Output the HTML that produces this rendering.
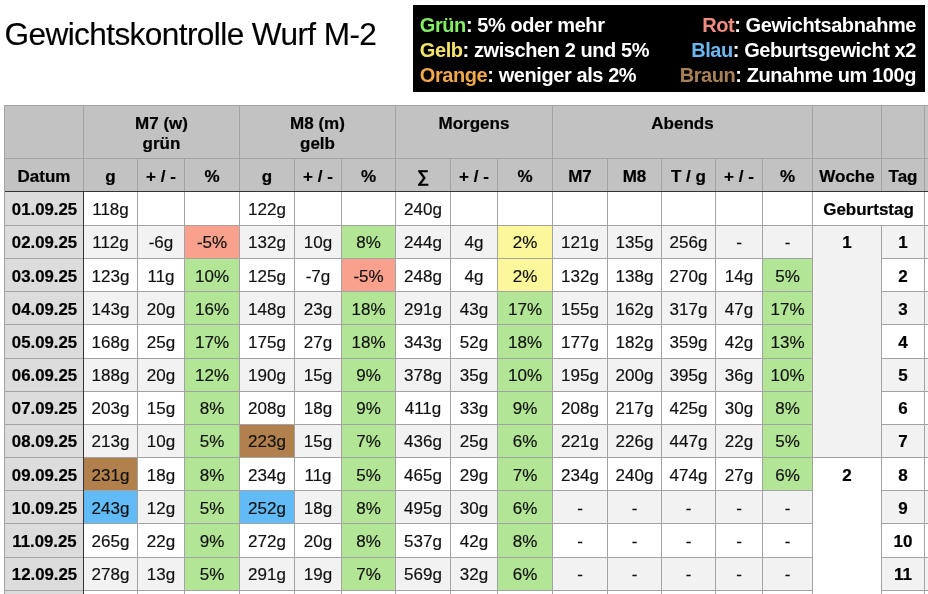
<!DOCTYPE html>
<html><head><meta charset="utf-8"><style>
html,body{margin:0;padding:0;background:#fff;width:928px;height:594px;overflow:hidden;position:relative;font-family:"Liberation Sans",sans-serif;color:#000}
.r{position:absolute}
#wrap{position:absolute;left:0;top:0;width:928px;height:594px;will-change:transform}
.t,.h,.d{position:absolute;text-align:center;white-space:nowrap}
.h{font-weight:bold;-webkit-text-stroke:0.2px #000;font-size:17px;line-height:19.8px;padding-top:8.8px;box-sizing:border-box}
.d{font-size:17px;line-height:35.8px;color:#111;-webkit-text-stroke:0.18px #111}
.b{font-weight:bold;color:#000;-webkit-text-stroke:0.2px #000}
#title{position:absolute;left:4.5px;top:13.9px;-webkit-text-stroke:0.15px #000;font-size:31.6px;letter-spacing:-0.6px;line-height:40px;white-space:nowrap}
#legend{position:absolute;left:413px;top:5px;width:512px;height:87px;background:#000;color:#fff;font-weight:bold;font-size:20px;letter-spacing:-0.42px}
#legend div{position:absolute;white-space:nowrap;line-height:25px}
</style></head><body><div id="wrap">
<div id="title">Gewichtskontrolle Wurf M-2</div>
<div id="legend">
<div style="left:6.8px;top:7.9px"><span style="color:#84ee64">Grün</span>: 5% oder mehr</div>
<div style="left:6.8px;top:32.9px"><span style="color:#f4e46a">Gelb</span>: zwischen 2 und 5%</div>
<div style="left:6.8px;top:57.6px"><span style="color:#f0a848">Orange</span>: weniger als 2%</div>
<div style="right:9px;top:7.9px;text-align:right"><span style="color:#f08c82">Rot</span>: Gewichtsabnahme</div>
<div style="right:9px;top:32.9px;text-align:right"><span style="color:#6cb6f0">Blau</span>: Geburtsgewicht x2</div>
<div style="right:9px;top:57.6px;text-align:right"><span style="color:#a88058">Braun</span>: Zunahme um 100g</div>
</div>
<div class="r" style="left:4.50px;top:105.40px;width:985.50px;height:85.90px;background:#c2c2c2;"></div>
<div class="r" style="left:83.50px;top:191.30px;width:906.50px;height:34.10px;background:#ffffff;"></div>
<div class="r" style="left:4.50px;top:191.30px;width:79.00px;height:34.10px;background:#dcdcdc;"></div>
<div class="r" style="left:83.50px;top:225.40px;width:906.50px;height:33.16px;background:#f2f2f2;"></div>
<div class="r" style="left:4.50px;top:225.40px;width:79.00px;height:33.16px;background:#dcdcdc;"></div>
<div class="r" style="left:83.50px;top:258.56px;width:906.50px;height:33.16px;background:#ffffff;"></div>
<div class="r" style="left:4.50px;top:258.56px;width:79.00px;height:33.16px;background:#dcdcdc;"></div>
<div class="r" style="left:83.50px;top:291.72px;width:906.50px;height:33.16px;background:#f2f2f2;"></div>
<div class="r" style="left:4.50px;top:291.72px;width:79.00px;height:33.16px;background:#dcdcdc;"></div>
<div class="r" style="left:83.50px;top:324.88px;width:906.50px;height:33.16px;background:#ffffff;"></div>
<div class="r" style="left:4.50px;top:324.88px;width:79.00px;height:33.16px;background:#dcdcdc;"></div>
<div class="r" style="left:83.50px;top:358.04px;width:906.50px;height:33.16px;background:#f2f2f2;"></div>
<div class="r" style="left:4.50px;top:358.04px;width:79.00px;height:33.16px;background:#dcdcdc;"></div>
<div class="r" style="left:83.50px;top:391.20px;width:906.50px;height:33.16px;background:#ffffff;"></div>
<div class="r" style="left:4.50px;top:391.20px;width:79.00px;height:33.16px;background:#dcdcdc;"></div>
<div class="r" style="left:83.50px;top:424.36px;width:906.50px;height:33.16px;background:#f2f2f2;"></div>
<div class="r" style="left:4.50px;top:424.36px;width:79.00px;height:33.16px;background:#dcdcdc;"></div>
<div class="r" style="left:83.50px;top:457.52px;width:906.50px;height:33.16px;background:#ffffff;"></div>
<div class="r" style="left:4.50px;top:457.52px;width:79.00px;height:33.16px;background:#dcdcdc;"></div>
<div class="r" style="left:83.50px;top:490.68px;width:906.50px;height:33.16px;background:#f2f2f2;"></div>
<div class="r" style="left:4.50px;top:490.68px;width:79.00px;height:33.16px;background:#dcdcdc;"></div>
<div class="r" style="left:83.50px;top:523.84px;width:906.50px;height:33.16px;background:#ffffff;"></div>
<div class="r" style="left:4.50px;top:523.84px;width:79.00px;height:33.16px;background:#dcdcdc;"></div>
<div class="r" style="left:83.50px;top:557.00px;width:906.50px;height:33.16px;background:#f2f2f2;"></div>
<div class="r" style="left:4.50px;top:557.00px;width:79.00px;height:33.16px;background:#dcdcdc;"></div>
<div class="r" style="left:83.50px;top:590.16px;width:906.50px;height:49.84px;background:#ffffff;"></div>
<div class="r" style="left:4.50px;top:590.16px;width:79.00px;height:49.84px;background:#dcdcdc;"></div>
<div class="r" style="left:812.50px;top:225.40px;width:69.00px;height:232.12px;background:#f2f2f2;"></div>
<div class="r" style="left:812.50px;top:457.52px;width:69.00px;height:182.48px;background:#ffffff;"></div>
<div class="r" style="left:184.50px;top:225.40px;width:55.00px;height:33.16px;background:#f9a18d;"></div>
<div class="r" style="left:341.50px;top:225.40px;width:54.00px;height:33.16px;background:#b3e596;"></div>
<div class="r" style="left:497.50px;top:225.40px;width:55.00px;height:33.16px;background:#fbf79a;"></div>
<div class="r" style="left:184.50px;top:258.56px;width:55.00px;height:33.16px;background:#b3e596;"></div>
<div class="r" style="left:341.50px;top:258.56px;width:54.00px;height:33.16px;background:#f9a18d;"></div>
<div class="r" style="left:497.50px;top:258.56px;width:55.00px;height:33.16px;background:#fbf79a;"></div>
<div class="r" style="left:762.50px;top:258.56px;width:50.00px;height:33.16px;background:#b3e596;"></div>
<div class="r" style="left:184.50px;top:291.72px;width:55.00px;height:33.16px;background:#b3e596;"></div>
<div class="r" style="left:341.50px;top:291.72px;width:54.00px;height:33.16px;background:#b3e596;"></div>
<div class="r" style="left:497.50px;top:291.72px;width:55.00px;height:33.16px;background:#b3e596;"></div>
<div class="r" style="left:184.50px;top:324.88px;width:55.00px;height:33.16px;background:#b3e596;"></div>
<div class="r" style="left:341.50px;top:324.88px;width:54.00px;height:33.16px;background:#b3e596;"></div>
<div class="r" style="left:497.50px;top:324.88px;width:55.00px;height:33.16px;background:#b3e596;"></div>
<div class="r" style="left:184.50px;top:358.04px;width:55.00px;height:33.16px;background:#b3e596;"></div>
<div class="r" style="left:341.50px;top:358.04px;width:54.00px;height:33.16px;background:#b3e596;"></div>
<div class="r" style="left:497.50px;top:358.04px;width:55.00px;height:33.16px;background:#b3e596;"></div>
<div class="r" style="left:184.50px;top:391.20px;width:55.00px;height:33.16px;background:#b3e596;"></div>
<div class="r" style="left:341.50px;top:391.20px;width:54.00px;height:33.16px;background:#b3e596;"></div>
<div class="r" style="left:497.50px;top:391.20px;width:55.00px;height:33.16px;background:#b3e596;"></div>
<div class="r" style="left:184.50px;top:424.36px;width:55.00px;height:33.16px;background:#b3e596;"></div>
<div class="r" style="left:341.50px;top:424.36px;width:54.00px;height:33.16px;background:#b3e596;"></div>
<div class="r" style="left:497.50px;top:424.36px;width:55.00px;height:33.16px;background:#b3e596;"></div>
<div class="r" style="left:184.50px;top:457.52px;width:55.00px;height:33.16px;background:#b3e596;"></div>
<div class="r" style="left:341.50px;top:457.52px;width:54.00px;height:33.16px;background:#b3e596;"></div>
<div class="r" style="left:497.50px;top:457.52px;width:55.00px;height:33.16px;background:#b3e596;"></div>
<div class="r" style="left:184.50px;top:490.68px;width:55.00px;height:33.16px;background:#b3e596;"></div>
<div class="r" style="left:341.50px;top:490.68px;width:54.00px;height:33.16px;background:#b3e596;"></div>
<div class="r" style="left:497.50px;top:490.68px;width:55.00px;height:33.16px;background:#b3e596;"></div>
<div class="r" style="left:184.50px;top:523.84px;width:55.00px;height:33.16px;background:#b3e596;"></div>
<div class="r" style="left:341.50px;top:523.84px;width:54.00px;height:33.16px;background:#b3e596;"></div>
<div class="r" style="left:497.50px;top:523.84px;width:55.00px;height:33.16px;background:#b3e596;"></div>
<div class="r" style="left:184.50px;top:557.00px;width:55.00px;height:33.16px;background:#b3e596;"></div>
<div class="r" style="left:341.50px;top:557.00px;width:54.00px;height:33.16px;background:#b3e596;"></div>
<div class="r" style="left:497.50px;top:557.00px;width:55.00px;height:33.16px;background:#b3e596;"></div>
<div class="r" style="left:762.50px;top:291.72px;width:50.00px;height:33.16px;background:#b3e596;"></div>
<div class="r" style="left:762.50px;top:324.88px;width:50.00px;height:33.16px;background:#b3e596;"></div>
<div class="r" style="left:762.50px;top:358.04px;width:50.00px;height:33.16px;background:#b3e596;"></div>
<div class="r" style="left:762.50px;top:391.20px;width:50.00px;height:33.16px;background:#b3e596;"></div>
<div class="r" style="left:762.50px;top:424.36px;width:50.00px;height:33.16px;background:#b3e596;"></div>
<div class="r" style="left:762.50px;top:457.52px;width:50.00px;height:33.16px;background:#b3e596;"></div>
<div class="r" style="left:239.50px;top:424.36px;width:55.00px;height:33.16px;background:#b2804c;"></div>
<div class="r" style="left:83.50px;top:457.52px;width:54.00px;height:33.16px;background:#b2804c;"></div>
<div class="r" style="left:83.50px;top:490.68px;width:54.00px;height:33.16px;background:#61bbf6;"></div>
<div class="r" style="left:239.50px;top:490.68px;width:55.00px;height:33.16px;background:#61bbf6;"></div>
<div class="r" style="left:4.50px;top:104.90px;width:985.50px;height:1.00px;background:#a3a3a3;"></div>
<div class="r" style="left:4.50px;top:157.90px;width:985.50px;height:1.00px;background:#a3a3a3;"></div>
<div class="r" style="left:4.00px;top:105.40px;width:1.00px;height:488.60px;background:#a3a3a3;"></div>
<div class="r" style="left:83.00px;top:105.40px;width:1.00px;height:85.90px;background:#a3a3a3;"></div>
<div class="r" style="left:239.00px;top:105.40px;width:1.00px;height:85.90px;background:#a3a3a3;"></div>
<div class="r" style="left:395.00px;top:105.40px;width:1.00px;height:85.90px;background:#a3a3a3;"></div>
<div class="r" style="left:552.00px;top:105.40px;width:1.00px;height:85.90px;background:#a3a3a3;"></div>
<div class="r" style="left:812.00px;top:105.40px;width:1.00px;height:85.90px;background:#a3a3a3;"></div>
<div class="r" style="left:881.00px;top:105.40px;width:1.00px;height:85.90px;background:#a3a3a3;"></div>
<div class="r" style="left:924.00px;top:105.40px;width:1.00px;height:85.90px;background:#a3a3a3;"></div>
<div class="r" style="left:137.00px;top:158.40px;width:1.00px;height:32.90px;background:#a3a3a3;"></div>
<div class="r" style="left:184.00px;top:158.40px;width:1.00px;height:32.90px;background:#a3a3a3;"></div>
<div class="r" style="left:294.00px;top:158.40px;width:1.00px;height:32.90px;background:#a3a3a3;"></div>
<div class="r" style="left:341.00px;top:158.40px;width:1.00px;height:32.90px;background:#a3a3a3;"></div>
<div class="r" style="left:450.00px;top:158.40px;width:1.00px;height:32.90px;background:#a3a3a3;"></div>
<div class="r" style="left:497.00px;top:158.40px;width:1.00px;height:32.90px;background:#a3a3a3;"></div>
<div class="r" style="left:607.00px;top:158.40px;width:1.00px;height:32.90px;background:#a3a3a3;"></div>
<div class="r" style="left:661.00px;top:158.40px;width:1.00px;height:32.90px;background:#a3a3a3;"></div>
<div class="r" style="left:715.00px;top:158.40px;width:1.00px;height:32.90px;background:#a3a3a3;"></div>
<div class="r" style="left:762.00px;top:158.40px;width:1.00px;height:32.90px;background:#a3a3a3;"></div>
<div class="r" style="left:83.50px;top:224.90px;width:906.50px;height:1.00px;background:#a3a3a3;"></div>
<div class="r" style="left:4.50px;top:224.90px;width:79.00px;height:1.00px;background:#a3a3a3;"></div>
<div class="r" style="left:83.50px;top:258.06px;width:729.00px;height:1.00px;background:#a3a3a3;"></div>
<div class="r" style="left:881.50px;top:258.06px;width:108.50px;height:1.00px;background:#a3a3a3;"></div>
<div class="r" style="left:4.50px;top:258.06px;width:79.00px;height:1.00px;background:#a3a3a3;"></div>
<div class="r" style="left:83.50px;top:291.22px;width:729.00px;height:1.00px;background:#a3a3a3;"></div>
<div class="r" style="left:881.50px;top:291.22px;width:108.50px;height:1.00px;background:#a3a3a3;"></div>
<div class="r" style="left:4.50px;top:291.22px;width:79.00px;height:1.00px;background:#a3a3a3;"></div>
<div class="r" style="left:83.50px;top:324.38px;width:729.00px;height:1.00px;background:#a3a3a3;"></div>
<div class="r" style="left:881.50px;top:324.38px;width:108.50px;height:1.00px;background:#a3a3a3;"></div>
<div class="r" style="left:4.50px;top:324.38px;width:79.00px;height:1.00px;background:#a3a3a3;"></div>
<div class="r" style="left:83.50px;top:357.54px;width:729.00px;height:1.00px;background:#a3a3a3;"></div>
<div class="r" style="left:881.50px;top:357.54px;width:108.50px;height:1.00px;background:#a3a3a3;"></div>
<div class="r" style="left:4.50px;top:357.54px;width:79.00px;height:1.00px;background:#a3a3a3;"></div>
<div class="r" style="left:83.50px;top:390.70px;width:729.00px;height:1.00px;background:#a3a3a3;"></div>
<div class="r" style="left:881.50px;top:390.70px;width:108.50px;height:1.00px;background:#a3a3a3;"></div>
<div class="r" style="left:4.50px;top:390.70px;width:79.00px;height:1.00px;background:#a3a3a3;"></div>
<div class="r" style="left:83.50px;top:423.86px;width:729.00px;height:1.00px;background:#a3a3a3;"></div>
<div class="r" style="left:881.50px;top:423.86px;width:108.50px;height:1.00px;background:#a3a3a3;"></div>
<div class="r" style="left:4.50px;top:423.86px;width:79.00px;height:1.00px;background:#a3a3a3;"></div>
<div class="r" style="left:83.50px;top:457.02px;width:906.50px;height:1.00px;background:#a3a3a3;"></div>
<div class="r" style="left:4.50px;top:457.02px;width:79.00px;height:1.00px;background:#a3a3a3;"></div>
<div class="r" style="left:83.50px;top:490.18px;width:729.00px;height:1.00px;background:#a3a3a3;"></div>
<div class="r" style="left:881.50px;top:490.18px;width:108.50px;height:1.00px;background:#a3a3a3;"></div>
<div class="r" style="left:4.50px;top:490.18px;width:79.00px;height:1.00px;background:#a3a3a3;"></div>
<div class="r" style="left:83.50px;top:523.34px;width:729.00px;height:1.00px;background:#a3a3a3;"></div>
<div class="r" style="left:881.50px;top:523.34px;width:108.50px;height:1.00px;background:#a3a3a3;"></div>
<div class="r" style="left:4.50px;top:523.34px;width:79.00px;height:1.00px;background:#a3a3a3;"></div>
<div class="r" style="left:83.50px;top:556.50px;width:729.00px;height:1.00px;background:#a3a3a3;"></div>
<div class="r" style="left:881.50px;top:556.50px;width:108.50px;height:1.00px;background:#a3a3a3;"></div>
<div class="r" style="left:4.50px;top:556.50px;width:79.00px;height:1.00px;background:#a3a3a3;"></div>
<div class="r" style="left:83.50px;top:589.66px;width:729.00px;height:1.00px;background:#a3a3a3;"></div>
<div class="r" style="left:881.50px;top:589.66px;width:108.50px;height:1.00px;background:#a3a3a3;"></div>
<div class="r" style="left:4.50px;top:589.66px;width:79.00px;height:1.00px;background:#a3a3a3;"></div>
<div class="r" style="left:137.00px;top:191.30px;width:1.00px;height:402.70px;background:#a3a3a3;"></div>
<div class="r" style="left:184.00px;top:191.30px;width:1.00px;height:402.70px;background:#a3a3a3;"></div>
<div class="r" style="left:239.00px;top:191.30px;width:1.00px;height:402.70px;background:#a3a3a3;"></div>
<div class="r" style="left:294.00px;top:191.30px;width:1.00px;height:402.70px;background:#a3a3a3;"></div>
<div class="r" style="left:341.00px;top:191.30px;width:1.00px;height:402.70px;background:#a3a3a3;"></div>
<div class="r" style="left:395.00px;top:191.30px;width:1.00px;height:402.70px;background:#a3a3a3;"></div>
<div class="r" style="left:450.00px;top:191.30px;width:1.00px;height:402.70px;background:#a3a3a3;"></div>
<div class="r" style="left:497.00px;top:191.30px;width:1.00px;height:402.70px;background:#a3a3a3;"></div>
<div class="r" style="left:552.00px;top:191.30px;width:1.00px;height:402.70px;background:#a3a3a3;"></div>
<div class="r" style="left:607.00px;top:191.30px;width:1.00px;height:402.70px;background:#a3a3a3;"></div>
<div class="r" style="left:661.00px;top:191.30px;width:1.00px;height:402.70px;background:#a3a3a3;"></div>
<div class="r" style="left:715.00px;top:191.30px;width:1.00px;height:402.70px;background:#a3a3a3;"></div>
<div class="r" style="left:762.00px;top:191.30px;width:1.00px;height:402.70px;background:#a3a3a3;"></div>
<div class="r" style="left:812.00px;top:191.30px;width:1.00px;height:402.70px;background:#a3a3a3;"></div>
<div class="r" style="left:881.00px;top:225.40px;width:1.00px;height:368.60px;background:#a3a3a3;"></div>
<div class="r" style="left:924.00px;top:191.30px;width:1.00px;height:402.70px;background:#a3a3a3;"></div>
<div class="r" style="left:4.50px;top:190.80px;width:985.50px;height:1.00px;background:#333333;"></div>
<div class="r" style="left:83.00px;top:191.30px;width:1.00px;height:402.70px;background:#333333;"></div>
<div class="h" style="left:83.50px;top:105.40px;width:156.00px;height:53.00px;">M7 (w)<br>grün</div>
<div class="h" style="left:239.50px;top:105.40px;width:156.00px;height:53.00px;">M8 (m)<br>gelb</div>
<div class="h" style="left:395.50px;top:105.40px;width:157.00px;height:53.00px;">Morgens</div>
<div class="h" style="left:552.50px;top:105.40px;width:260.00px;height:53.00px;">Abends</div>
<div class="h" style="left:4.50px;top:158.40px;width:79.00px;height:32.90px;line-height:38.90px;padding-top:0">Datum</div>
<div class="h" style="left:83.50px;top:158.40px;width:54.00px;height:32.90px;line-height:38.90px;padding-top:0">g</div>
<div class="h" style="left:137.50px;top:158.40px;width:47.00px;height:32.90px;line-height:38.90px;padding-top:0">+ / -</div>
<div class="h" style="left:184.50px;top:158.40px;width:55.00px;height:32.90px;line-height:38.90px;padding-top:0">%</div>
<div class="h" style="left:239.50px;top:158.40px;width:55.00px;height:32.90px;line-height:38.90px;padding-top:0">g</div>
<div class="h" style="left:294.50px;top:158.40px;width:47.00px;height:32.90px;line-height:38.90px;padding-top:0">+ / -</div>
<div class="h" style="left:341.50px;top:158.40px;width:54.00px;height:32.90px;line-height:38.90px;padding-top:0">%</div>
<div class="h" style="left:395.50px;top:158.40px;width:55.00px;height:32.90px;line-height:38.90px;padding-top:0">&sum;</div>
<div class="h" style="left:450.50px;top:158.40px;width:47.00px;height:32.90px;line-height:38.90px;padding-top:0">+ / -</div>
<div class="h" style="left:497.50px;top:158.40px;width:55.00px;height:32.90px;line-height:38.90px;padding-top:0">%</div>
<div class="h" style="left:552.50px;top:158.40px;width:55.00px;height:32.90px;line-height:38.90px;padding-top:0">M7</div>
<div class="h" style="left:607.50px;top:158.40px;width:54.00px;height:32.90px;line-height:38.90px;padding-top:0">M8</div>
<div class="h" style="left:661.50px;top:158.40px;width:54.00px;height:32.90px;line-height:38.90px;padding-top:0">T / g</div>
<div class="h" style="left:715.50px;top:158.40px;width:47.00px;height:32.90px;line-height:38.90px;padding-top:0">+ / -</div>
<div class="h" style="left:762.50px;top:158.40px;width:50.00px;height:32.90px;line-height:38.90px;padding-top:0">%</div>
<div class="h" style="left:812.50px;top:158.40px;width:69.00px;height:32.90px;line-height:38.90px;padding-top:0">Woche</div>
<div class="h" style="left:881.50px;top:158.40px;width:43.00px;height:32.90px;line-height:38.90px;padding-top:0">Tag</div>
<div class="d b" style="left:5.00px;top:192.10px;width:79.00px;height:33.30px;font-size:16.8px">01.09.25</div>
<div class="d" style="left:83.50px;top:192.10px;width:54.00px;height:33.30px;">118g</div>
<div class="d" style="left:239.50px;top:192.10px;width:55.00px;height:33.30px;">122g</div>
<div class="d" style="left:395.50px;top:192.10px;width:55.00px;height:33.30px;">240g</div>
<div class="d b" style="left:5.00px;top:225.40px;width:79.00px;height:33.16px;font-size:16.8px">02.09.25</div>
<div class="d" style="left:83.50px;top:225.40px;width:54.00px;height:33.16px;">112g</div>
<div class="d" style="left:137.50px;top:225.40px;width:47.00px;height:33.16px;">-6g</div>
<div class="d" style="left:184.50px;top:225.40px;width:55.00px;height:33.16px;">-5%</div>
<div class="d" style="left:239.50px;top:225.40px;width:55.00px;height:33.16px;">132g</div>
<div class="d" style="left:294.50px;top:225.40px;width:47.00px;height:33.16px;">10g</div>
<div class="d" style="left:341.50px;top:225.40px;width:54.00px;height:33.16px;">8%</div>
<div class="d" style="left:395.50px;top:225.40px;width:55.00px;height:33.16px;">244g</div>
<div class="d" style="left:450.50px;top:225.40px;width:47.00px;height:33.16px;">4g</div>
<div class="d" style="left:497.50px;top:225.40px;width:55.00px;height:33.16px;">2%</div>
<div class="d" style="left:552.50px;top:225.40px;width:55.00px;height:33.16px;">121g</div>
<div class="d" style="left:607.50px;top:225.40px;width:54.00px;height:33.16px;">135g</div>
<div class="d" style="left:661.50px;top:225.40px;width:54.00px;height:33.16px;">256g</div>
<div class="d" style="left:715.50px;top:225.40px;width:47.00px;height:33.16px;">-</div>
<div class="d" style="left:762.50px;top:225.40px;width:50.00px;height:33.16px;">-</div>
<div class="d b" style="left:5.00px;top:258.56px;width:79.00px;height:33.16px;font-size:16.8px">03.09.25</div>
<div class="d" style="left:83.50px;top:258.56px;width:54.00px;height:33.16px;">123g</div>
<div class="d" style="left:137.50px;top:258.56px;width:47.00px;height:33.16px;">11g</div>
<div class="d" style="left:184.50px;top:258.56px;width:55.00px;height:33.16px;">10%</div>
<div class="d" style="left:239.50px;top:258.56px;width:55.00px;height:33.16px;">125g</div>
<div class="d" style="left:294.50px;top:258.56px;width:47.00px;height:33.16px;">-7g</div>
<div class="d" style="left:341.50px;top:258.56px;width:54.00px;height:33.16px;">-5%</div>
<div class="d" style="left:395.50px;top:258.56px;width:55.00px;height:33.16px;">248g</div>
<div class="d" style="left:450.50px;top:258.56px;width:47.00px;height:33.16px;">4g</div>
<div class="d" style="left:497.50px;top:258.56px;width:55.00px;height:33.16px;">2%</div>
<div class="d" style="left:552.50px;top:258.56px;width:55.00px;height:33.16px;">132g</div>
<div class="d" style="left:607.50px;top:258.56px;width:54.00px;height:33.16px;">138g</div>
<div class="d" style="left:661.50px;top:258.56px;width:54.00px;height:33.16px;">270g</div>
<div class="d" style="left:715.50px;top:258.56px;width:47.00px;height:33.16px;">14g</div>
<div class="d" style="left:762.50px;top:258.56px;width:50.00px;height:33.16px;">5%</div>
<div class="d b" style="left:5.00px;top:291.72px;width:79.00px;height:33.16px;font-size:16.8px">04.09.25</div>
<div class="d" style="left:83.50px;top:291.72px;width:54.00px;height:33.16px;">143g</div>
<div class="d" style="left:137.50px;top:291.72px;width:47.00px;height:33.16px;">20g</div>
<div class="d" style="left:184.50px;top:291.72px;width:55.00px;height:33.16px;">16%</div>
<div class="d" style="left:239.50px;top:291.72px;width:55.00px;height:33.16px;">148g</div>
<div class="d" style="left:294.50px;top:291.72px;width:47.00px;height:33.16px;">23g</div>
<div class="d" style="left:341.50px;top:291.72px;width:54.00px;height:33.16px;">18%</div>
<div class="d" style="left:395.50px;top:291.72px;width:55.00px;height:33.16px;">291g</div>
<div class="d" style="left:450.50px;top:291.72px;width:47.00px;height:33.16px;">43g</div>
<div class="d" style="left:497.50px;top:291.72px;width:55.00px;height:33.16px;">17%</div>
<div class="d" style="left:552.50px;top:291.72px;width:55.00px;height:33.16px;">155g</div>
<div class="d" style="left:607.50px;top:291.72px;width:54.00px;height:33.16px;">162g</div>
<div class="d" style="left:661.50px;top:291.72px;width:54.00px;height:33.16px;">317g</div>
<div class="d" style="left:715.50px;top:291.72px;width:47.00px;height:33.16px;">47g</div>
<div class="d" style="left:762.50px;top:291.72px;width:50.00px;height:33.16px;">17%</div>
<div class="d b" style="left:5.00px;top:324.88px;width:79.00px;height:33.16px;font-size:16.8px">05.09.25</div>
<div class="d" style="left:83.50px;top:324.88px;width:54.00px;height:33.16px;">168g</div>
<div class="d" style="left:137.50px;top:324.88px;width:47.00px;height:33.16px;">25g</div>
<div class="d" style="left:184.50px;top:324.88px;width:55.00px;height:33.16px;">17%</div>
<div class="d" style="left:239.50px;top:324.88px;width:55.00px;height:33.16px;">175g</div>
<div class="d" style="left:294.50px;top:324.88px;width:47.00px;height:33.16px;">27g</div>
<div class="d" style="left:341.50px;top:324.88px;width:54.00px;height:33.16px;">18%</div>
<div class="d" style="left:395.50px;top:324.88px;width:55.00px;height:33.16px;">343g</div>
<div class="d" style="left:450.50px;top:324.88px;width:47.00px;height:33.16px;">52g</div>
<div class="d" style="left:497.50px;top:324.88px;width:55.00px;height:33.16px;">18%</div>
<div class="d" style="left:552.50px;top:324.88px;width:55.00px;height:33.16px;">177g</div>
<div class="d" style="left:607.50px;top:324.88px;width:54.00px;height:33.16px;">182g</div>
<div class="d" style="left:661.50px;top:324.88px;width:54.00px;height:33.16px;">359g</div>
<div class="d" style="left:715.50px;top:324.88px;width:47.00px;height:33.16px;">42g</div>
<div class="d" style="left:762.50px;top:324.88px;width:50.00px;height:33.16px;">13%</div>
<div class="d b" style="left:5.00px;top:358.04px;width:79.00px;height:33.16px;font-size:16.8px">06.09.25</div>
<div class="d" style="left:83.50px;top:358.04px;width:54.00px;height:33.16px;">188g</div>
<div class="d" style="left:137.50px;top:358.04px;width:47.00px;height:33.16px;">20g</div>
<div class="d" style="left:184.50px;top:358.04px;width:55.00px;height:33.16px;">12%</div>
<div class="d" style="left:239.50px;top:358.04px;width:55.00px;height:33.16px;">190g</div>
<div class="d" style="left:294.50px;top:358.04px;width:47.00px;height:33.16px;">15g</div>
<div class="d" style="left:341.50px;top:358.04px;width:54.00px;height:33.16px;">9%</div>
<div class="d" style="left:395.50px;top:358.04px;width:55.00px;height:33.16px;">378g</div>
<div class="d" style="left:450.50px;top:358.04px;width:47.00px;height:33.16px;">35g</div>
<div class="d" style="left:497.50px;top:358.04px;width:55.00px;height:33.16px;">10%</div>
<div class="d" style="left:552.50px;top:358.04px;width:55.00px;height:33.16px;">195g</div>
<div class="d" style="left:607.50px;top:358.04px;width:54.00px;height:33.16px;">200g</div>
<div class="d" style="left:661.50px;top:358.04px;width:54.00px;height:33.16px;">395g</div>
<div class="d" style="left:715.50px;top:358.04px;width:47.00px;height:33.16px;">36g</div>
<div class="d" style="left:762.50px;top:358.04px;width:50.00px;height:33.16px;">10%</div>
<div class="d b" style="left:5.00px;top:391.20px;width:79.00px;height:33.16px;font-size:16.8px">07.09.25</div>
<div class="d" style="left:83.50px;top:391.20px;width:54.00px;height:33.16px;">203g</div>
<div class="d" style="left:137.50px;top:391.20px;width:47.00px;height:33.16px;">15g</div>
<div class="d" style="left:184.50px;top:391.20px;width:55.00px;height:33.16px;">8%</div>
<div class="d" style="left:239.50px;top:391.20px;width:55.00px;height:33.16px;">208g</div>
<div class="d" style="left:294.50px;top:391.20px;width:47.00px;height:33.16px;">18g</div>
<div class="d" style="left:341.50px;top:391.20px;width:54.00px;height:33.16px;">9%</div>
<div class="d" style="left:395.50px;top:391.20px;width:55.00px;height:33.16px;">411g</div>
<div class="d" style="left:450.50px;top:391.20px;width:47.00px;height:33.16px;">33g</div>
<div class="d" style="left:497.50px;top:391.20px;width:55.00px;height:33.16px;">9%</div>
<div class="d" style="left:552.50px;top:391.20px;width:55.00px;height:33.16px;">208g</div>
<div class="d" style="left:607.50px;top:391.20px;width:54.00px;height:33.16px;">217g</div>
<div class="d" style="left:661.50px;top:391.20px;width:54.00px;height:33.16px;">425g</div>
<div class="d" style="left:715.50px;top:391.20px;width:47.00px;height:33.16px;">30g</div>
<div class="d" style="left:762.50px;top:391.20px;width:50.00px;height:33.16px;">8%</div>
<div class="d b" style="left:5.00px;top:424.36px;width:79.00px;height:33.16px;font-size:16.8px">08.09.25</div>
<div class="d" style="left:83.50px;top:424.36px;width:54.00px;height:33.16px;">213g</div>
<div class="d" style="left:137.50px;top:424.36px;width:47.00px;height:33.16px;">10g</div>
<div class="d" style="left:184.50px;top:424.36px;width:55.00px;height:33.16px;">5%</div>
<div class="d" style="left:239.50px;top:424.36px;width:55.00px;height:33.16px;">223g</div>
<div class="d" style="left:294.50px;top:424.36px;width:47.00px;height:33.16px;">15g</div>
<div class="d" style="left:341.50px;top:424.36px;width:54.00px;height:33.16px;">7%</div>
<div class="d" style="left:395.50px;top:424.36px;width:55.00px;height:33.16px;">436g</div>
<div class="d" style="left:450.50px;top:424.36px;width:47.00px;height:33.16px;">25g</div>
<div class="d" style="left:497.50px;top:424.36px;width:55.00px;height:33.16px;">6%</div>
<div class="d" style="left:552.50px;top:424.36px;width:55.00px;height:33.16px;">221g</div>
<div class="d" style="left:607.50px;top:424.36px;width:54.00px;height:33.16px;">226g</div>
<div class="d" style="left:661.50px;top:424.36px;width:54.00px;height:33.16px;">447g</div>
<div class="d" style="left:715.50px;top:424.36px;width:47.00px;height:33.16px;">22g</div>
<div class="d" style="left:762.50px;top:424.36px;width:50.00px;height:33.16px;">5%</div>
<div class="d b" style="left:5.00px;top:457.52px;width:79.00px;height:33.16px;font-size:16.8px">09.09.25</div>
<div class="d" style="left:83.50px;top:457.52px;width:54.00px;height:33.16px;">231g</div>
<div class="d" style="left:137.50px;top:457.52px;width:47.00px;height:33.16px;">18g</div>
<div class="d" style="left:184.50px;top:457.52px;width:55.00px;height:33.16px;">8%</div>
<div class="d" style="left:239.50px;top:457.52px;width:55.00px;height:33.16px;">234g</div>
<div class="d" style="left:294.50px;top:457.52px;width:47.00px;height:33.16px;">11g</div>
<div class="d" style="left:341.50px;top:457.52px;width:54.00px;height:33.16px;">5%</div>
<div class="d" style="left:395.50px;top:457.52px;width:55.00px;height:33.16px;">465g</div>
<div class="d" style="left:450.50px;top:457.52px;width:47.00px;height:33.16px;">29g</div>
<div class="d" style="left:497.50px;top:457.52px;width:55.00px;height:33.16px;">7%</div>
<div class="d" style="left:552.50px;top:457.52px;width:55.00px;height:33.16px;">234g</div>
<div class="d" style="left:607.50px;top:457.52px;width:54.00px;height:33.16px;">240g</div>
<div class="d" style="left:661.50px;top:457.52px;width:54.00px;height:33.16px;">474g</div>
<div class="d" style="left:715.50px;top:457.52px;width:47.00px;height:33.16px;">27g</div>
<div class="d" style="left:762.50px;top:457.52px;width:50.00px;height:33.16px;">6%</div>
<div class="d b" style="left:5.00px;top:490.68px;width:79.00px;height:33.16px;font-size:16.8px">10.09.25</div>
<div class="d" style="left:83.50px;top:490.68px;width:54.00px;height:33.16px;">243g</div>
<div class="d" style="left:137.50px;top:490.68px;width:47.00px;height:33.16px;">12g</div>
<div class="d" style="left:184.50px;top:490.68px;width:55.00px;height:33.16px;">5%</div>
<div class="d" style="left:239.50px;top:490.68px;width:55.00px;height:33.16px;">252g</div>
<div class="d" style="left:294.50px;top:490.68px;width:47.00px;height:33.16px;">18g</div>
<div class="d" style="left:341.50px;top:490.68px;width:54.00px;height:33.16px;">8%</div>
<div class="d" style="left:395.50px;top:490.68px;width:55.00px;height:33.16px;">495g</div>
<div class="d" style="left:450.50px;top:490.68px;width:47.00px;height:33.16px;">30g</div>
<div class="d" style="left:497.50px;top:490.68px;width:55.00px;height:33.16px;">6%</div>
<div class="d" style="left:552.50px;top:490.68px;width:55.00px;height:33.16px;">-</div>
<div class="d" style="left:607.50px;top:490.68px;width:54.00px;height:33.16px;">-</div>
<div class="d" style="left:661.50px;top:490.68px;width:54.00px;height:33.16px;">-</div>
<div class="d" style="left:715.50px;top:490.68px;width:47.00px;height:33.16px;">-</div>
<div class="d" style="left:762.50px;top:490.68px;width:50.00px;height:33.16px;">-</div>
<div class="d b" style="left:5.00px;top:523.84px;width:79.00px;height:33.16px;font-size:16.8px">11.09.25</div>
<div class="d" style="left:83.50px;top:523.84px;width:54.00px;height:33.16px;">265g</div>
<div class="d" style="left:137.50px;top:523.84px;width:47.00px;height:33.16px;">22g</div>
<div class="d" style="left:184.50px;top:523.84px;width:55.00px;height:33.16px;">9%</div>
<div class="d" style="left:239.50px;top:523.84px;width:55.00px;height:33.16px;">272g</div>
<div class="d" style="left:294.50px;top:523.84px;width:47.00px;height:33.16px;">20g</div>
<div class="d" style="left:341.50px;top:523.84px;width:54.00px;height:33.16px;">8%</div>
<div class="d" style="left:395.50px;top:523.84px;width:55.00px;height:33.16px;">537g</div>
<div class="d" style="left:450.50px;top:523.84px;width:47.00px;height:33.16px;">42g</div>
<div class="d" style="left:497.50px;top:523.84px;width:55.00px;height:33.16px;">8%</div>
<div class="d" style="left:552.50px;top:523.84px;width:55.00px;height:33.16px;">-</div>
<div class="d" style="left:607.50px;top:523.84px;width:54.00px;height:33.16px;">-</div>
<div class="d" style="left:661.50px;top:523.84px;width:54.00px;height:33.16px;">-</div>
<div class="d" style="left:715.50px;top:523.84px;width:47.00px;height:33.16px;">-</div>
<div class="d" style="left:762.50px;top:523.84px;width:50.00px;height:33.16px;">-</div>
<div class="d b" style="left:5.00px;top:557.00px;width:79.00px;height:33.16px;font-size:16.8px">12.09.25</div>
<div class="d" style="left:83.50px;top:557.00px;width:54.00px;height:33.16px;">278g</div>
<div class="d" style="left:137.50px;top:557.00px;width:47.00px;height:33.16px;">13g</div>
<div class="d" style="left:184.50px;top:557.00px;width:55.00px;height:33.16px;">5%</div>
<div class="d" style="left:239.50px;top:557.00px;width:55.00px;height:33.16px;">291g</div>
<div class="d" style="left:294.50px;top:557.00px;width:47.00px;height:33.16px;">19g</div>
<div class="d" style="left:341.50px;top:557.00px;width:54.00px;height:33.16px;">7%</div>
<div class="d" style="left:395.50px;top:557.00px;width:55.00px;height:33.16px;">569g</div>
<div class="d" style="left:450.50px;top:557.00px;width:47.00px;height:33.16px;">32g</div>
<div class="d" style="left:497.50px;top:557.00px;width:55.00px;height:33.16px;">6%</div>
<div class="d" style="left:552.50px;top:557.00px;width:55.00px;height:33.16px;">-</div>
<div class="d" style="left:607.50px;top:557.00px;width:54.00px;height:33.16px;">-</div>
<div class="d" style="left:661.50px;top:557.00px;width:54.00px;height:33.16px;">-</div>
<div class="d" style="left:715.50px;top:557.00px;width:47.00px;height:33.16px;">-</div>
<div class="d" style="left:762.50px;top:557.00px;width:50.00px;height:33.16px;">-</div>
<div class="d b" style="left:812.50px;top:192.10px;width:112.00px;height:33.30px;">Geburtstag</div>
<div class="d b" style="left:812.50px;top:225.40px;width:69.00px;height:33.16px;">1</div>
<div class="d b" style="left:812.50px;top:457.52px;width:69.00px;height:33.16px;">2</div>
<div class="d b" style="left:881.50px;top:225.40px;width:43.00px;height:33.16px;">1</div>
<div class="d b" style="left:881.50px;top:258.56px;width:43.00px;height:33.16px;">2</div>
<div class="d b" style="left:881.50px;top:291.72px;width:43.00px;height:33.16px;">3</div>
<div class="d b" style="left:881.50px;top:324.88px;width:43.00px;height:33.16px;">4</div>
<div class="d b" style="left:881.50px;top:358.04px;width:43.00px;height:33.16px;">5</div>
<div class="d b" style="left:881.50px;top:391.20px;width:43.00px;height:33.16px;">6</div>
<div class="d b" style="left:881.50px;top:424.36px;width:43.00px;height:33.16px;">7</div>
<div class="d b" style="left:881.50px;top:457.52px;width:43.00px;height:33.16px;">8</div>
<div class="d b" style="left:881.50px;top:490.68px;width:43.00px;height:33.16px;">9</div>
<div class="d b" style="left:881.50px;top:523.84px;width:43.00px;height:33.16px;">10</div>
<div class="d b" style="left:881.50px;top:557.00px;width:43.00px;height:33.16px;">11</div>
</div></body></html>
